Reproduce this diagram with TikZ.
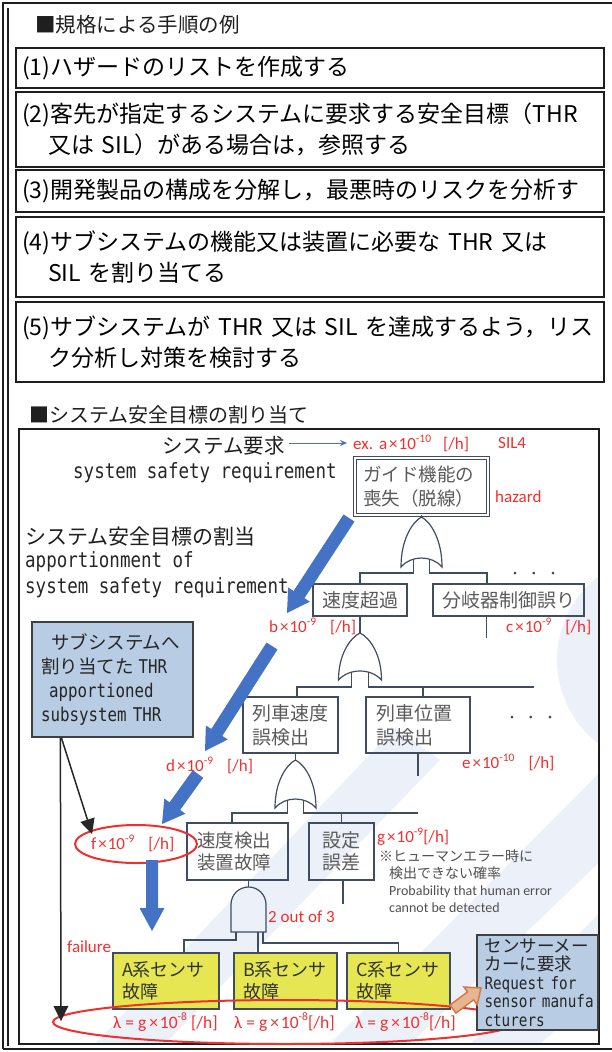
\documentclass[tikz,border=0pt]{standalone}
\usepackage{fontspec}
\usepackage{graphicx}
\setmainfont{Noto Sans CJK JP}
\newfontfamily\jp{Noto Sans CJK JP}
\newfontfamily\calfont{Carlito}
\newfontfamily\monofont{DejaVu Sans Mono}
\usetikzlibrary{calc,shapes.geometric,arrows.meta}

\definecolor{frameblack}{RGB}{30,30,30}
\definecolor{treeline}{RGB}{64,76,96}
\definecolor{treetext}{RGB}{90,90,90}
\definecolor{redtxt}{RGB}{238,48,48}
\definecolor{arrowblue}{RGB}{68,114,196}
\definecolor{boxblue}{RGB}{184,204,228}
\definecolor{sensoryellow}{RGB}{230,230,82}
\definecolor{orangefill}{RGB}{232,180,150}
\definecolor{orangeline}{RGB}{214,122,64}
\definecolor{notegray}{RGB}{80,80,80}
\definecolor{wm}{RGB}{236,241,249}

\newcommand\sups[1]{\raisebox{0.42em}{\fontsize{11.5}{11.5}\selectfont #1}}
\newcommand\mtxt[2]{\mbox{\monofont\fontsize{#1}{#1}\selectfont\scalebox{1}[1.2]{#2}}}
\newcommand\tallmono[1]{\scalebox{1}[1.2]{#1}}

% OR gate: name, cx, top, bottom, half width
\newcommand\ORgate[5]{%
  \draw[gateline] ({#2},{#3}) .. controls ({#2+0.45*#5},{#3+0.1*(#4-#3)}) and ({#2+#5},{#3+0.45*(#4-#3)}) .. ({#2+#5},{#4})
    .. controls ({#2+0.5*#5},{#4-12}) and ({#2-0.5*#5},{#4-12}) .. ({#2-#5},{#4})
    .. controls ({#2-#5},{#3+0.45*(#4-#3)}) and ({#2-0.45*#5},{#3+0.1*(#4-#3)}) .. cycle;
  \coordinate (#1-top) at ({#2},{#3});
  \coordinate (#1-l) at ({#2-0.4*#5},{#4-7.8});
  \coordinate (#1-r) at ({#2+0.4*#5},{#4-7.8});
}
% AND gate: name, cx, top, bottom, half width
\newcommand\ANDgate[5]{%
  \draw[gateline] ({#2-#5},{#4}) -- ({#2-#5},{#3+#5})
    .. controls ({#2-#5},{#3+0.45*#5}) and ({#2-0.55*#5},{#3}) .. ({#2},{#3})
    .. controls ({#2+0.55*#5},{#3}) and ({#2+#5},{#3+0.45*#5}) .. ({#2+#5},{#3+#5})
    -- ({#2+#5},{#4}) -- cycle;
  \coordinate (#1-top) at ({#2},{#3});
  \coordinate (#1-a) at ({#2-12.5},{#4});
  \coordinate (#1-b) at ({#2+9.5},{#4});
  \coordinate (#1-c) at ({#2+14.5},{#4});
}
% block arrow: style, tail, head, shaft hw, head hw, head length
\newcommand\blockarrow[6]{%
  \coordinate (ba-base) at ($(#3)!#6!(#2)$);
  \path[#1] ($(#2)!#4!90:(#3)$) -- ($(ba-base)!#4!90:(#3)$) -- ($(ba-base)!#5!90:(#3)$) -- (#3)
    -- ($(ba-base)!#5!-90:(#3)$) -- ($(ba-base)!#4!-90:(#3)$) -- ($(#2)!#4!-90:(#3)$) -- cycle;
}
% thin line with a large filled triangular head: start, tip
\newcommand\linearrow[2]{%
  \coordinate (la-base) at ($(#2)!15pt!(#1)$);
  \draw[blackline] (#1) -- (la-base);
  \fill[black!85] (#2) -- ($(la-base)!7.5pt!90:(#2)$) -- ($(la-base)!7.5pt!-90:(#2)$) -- cycle;
}

\begin{document}
\begin{tikzpicture}[x=1pt,y=-1pt,
  topbox/.style={draw=frameblack, line width=1.6pt, inner xsep=6pt, inner ysep=0pt, text width=576pt, align=left, minimum width=588pt, font=\jp\fontsize{23}{31}\selectfont},
  treebox/.style={draw=treeline, line width=1.3pt, inner sep=0pt, align=left, text=treetext, font=\jp\fontsize{19}{24}\selectfont},
  yellowbox/.style={treebox, fill=sensoryellow, text=black!80, font=\jp\fontsize{18}{22}\selectfont},
  bluebox/.style={draw=black!75, line width=1.3pt, fill=boxblue, align=left, inner sep=0pt, text=black!85},
  redlabel/.style={anchor=west, inner sep=0pt, text=redtxt, font=\calfont\fontsize{17}{17}\selectfont},
  notelabel/.style={anchor=west, inner sep=0pt, text=notegray},
  monolabel/.style={anchor=west, inner sep=0pt, text=black!85, font=\monofont\fontsize{17.5}{17.5}\selectfont},
  jplabel/.style={anchor=west, inner sep=0pt, text=black!88},
  treeedge/.style={draw=treeline, line width=1.1pt},
  gateline/.style={draw=treeline, line width=1.2pt},
  redring/.style={draw=redtxt, line width=2pt, ellipse, inner sep=0pt},
  blackline/.style={draw=black!85, line width=1.5pt},
]
\useasboundingbox (0,0) rectangle (612,1052);
\fill[white] (0,0) rectangle (612,1052);

% faint watermark
\begin{scope}
  \clip (19,429) rectangle (599,1044);
  \fill[wm] (662,660) circle[radius=105];
  \fill[wm] (95,1044) -- (165,1044) -- (440,760) -- (395,728) -- cycle;
  \fill[wm] (330,1044) -- (410,1044) -- (612,850) -- (612,760) -- cycle;
  \fill[wm] (470,1044) -- (540,1044) -- (612,980) -- (612,900) -- cycle;
\end{scope}

% outer frame
\draw[frameblack, line width=1.2pt] (3,1049) -- (3,3) -- (612,3);
\draw[frameblack, line width=1.2pt] (8,8) -- (8,1046);
\draw[frameblack, line width=1.2pt] (3,1049) -- (612,1049);

% upper part
\node[jplabel, font=\jp\fontsize{20.5}{20.5}\selectfont] (t1) at (35,25) {■規格による手順の例};
\node[topbox, minimum height=40pt] (s1) at (310,68) {(1)ハザードのリストを作成する};
\node[topbox, minimum height=75pt] (s2) at (310,129.5) {(2)客先が指定するシステムに要求する安全目標（THR\\\hspace*{26pt}又は SIL）がある場合は，参照する};
\node[topbox, minimum height=42pt] (s3) at (310,191) {(3)開発製品の構成を分解し，最悪時のリスクを分析す};
\node[topbox, minimum height=80pt] (s4) at (310,257) {(4)サブシステムの機能又は装置に必要な THR 又は\\\hspace*{26pt}SIL を割り当てる};
\node[topbox, minimum height=80pt] (s5) at (310,342) {(5)サブシステムが THR 又は SIL を達成するよう，リス\\\hspace*{26pt}ク分析し対策を検討する};

\node[jplabel, font=\jp\fontsize{20}{20}\selectfont] (t2) at (29,415) {■システム安全目標の割り当て};
\draw[frameblack, line width=1.5pt] (19,429) rectangle (599,1044);

% left texts
\node[jplabel, font=\jp\fontsize{20.5}{20.5}\selectfont] (sysreq) at (162,446) {システム要求};
\node[monolabel] (ssr1) at (73,473) {\tallmono{system safety requirement}};
\node[jplabel, font=\jp\fontsize{21}{21}\selectfont] (alloc) at (25,537) {システム安全目標の割当};
\node[monolabel] (ssr2a) at (25,562) {\tallmono{apportionment of}};
\node[monolabel] (ssr2b) at (25,588) {\tallmono{system safety requirement}};

% tree boxes
\node[treebox, double=white, line width=0.9pt, double distance=1.6pt, minimum width=133pt, minimum height=57pt, text width=117pt, font=\jp\fontsize{18.5}{24}\selectfont] (guide) at (421.5,486.5) {ガイド機能の\\喪失（脱線）};
\node[treebox, minimum width=94pt, minimum height=32pt, align=center] (b1) at (360,600) {速度超過};
\node[treebox, minimum width=151pt, minimum height=32pt, align=center] (b2) at (508.5,600) {分岐器制御誤り};
\node[treebox, minimum width=95pt, minimum height=56pt, text width=77pt] (c1) at (290.5,725) {列車速度\\誤検出};
\node[treebox, minimum width=104pt, minimum height=56pt, text width=84pt] (c2) at (418,725) {列車位置\\誤検出};
\node[treebox, minimum width=101pt, minimum height=57pt, text width=81pt, font=\jp\fontsize{18.5}{22}\selectfont] (d1) at (237.5,851.5) {速度検出\\装置故障};
\node[treebox, minimum width=65pt, minimum height=57pt, align=center, font=\jp\fontsize{19}{22}\selectfont] (d2) at (341.5,851.5) {設定\\誤差};
\node[yellowbox, minimum width=106pt, minimum height=56pt, text width=88pt] (sA) at (166,981) {A系センサ\\故障};
\node[yellowbox, minimum width=103pt, minimum height=56pt, text width=85pt] (sB) at (285.5,981) {B系センサ\\故障};
\node[yellowbox, minimum width=103pt, minimum height=56pt, text width=85pt] (sC) at (398.5,981) {C系センサ\\故障};

\node[jplabel, font=\jp\fontsize{13}{13}\selectfont, text=black!70, anchor=center] (dots1) at (534,575) {・\hspace{6pt}・\hspace{6pt}・};
\node[jplabel, font=\jp\fontsize{13}{13}\selectfont, text=black!70, anchor=center] (dots2) at (531,719) {・\hspace{6pt}・\hspace{6pt}・};

% gates and connectors
\ORgate{g1}{421.5}{517}{567}{20.5}
\coordinate (h1) at (0,573);
\draw[treeedge] (guide.south) -- (g1-top);
\draw[treeedge] (g1-l) -- (g1-l |- h1) -| (b1.north);
\draw[treeedge] (g1-r) -- (g1-r |- h1) -| ([xshift=-21.5pt]b2.north);
\draw[treeedge] ([xshift=-22pt]b2.south) -- ++(0,21);

\ORgate{g2}{360}{633}{680}{21.5}
\coordinate (h2) at (0,687);
\coordinate (h2end) at (534,687);
\draw[treeedge] (b1.south) -- (g2-top);
\draw[treeedge] (g2-l) -- (g2-l |- h2) -| ([xshift=6.5pt]c1.north);
\draw[treeedge] (g2-r) -- (g2-r |- h2) -- (h2end);
\draw[treeedge] ([xshift=5pt]c2.north |- h2) -- ([xshift=5pt]c2.north);
\draw[treeedge] (c2.south) -- ++(0,22);

\ORgate{g3}{295.5}{760}{808}{20.5}
\coordinate (h3) at (0,813);
\coordinate (h3end) at (418,813);
\draw[treeedge] ([xshift=5pt]c1.south) -- (g3-top);
\draw[treeedge] (g3-l) -- (g3-l |- h3) -| ([xshift=-5.5pt]d1.north);
\draw[treeedge] (g3-r) -- (g3-r |- h3) -- (h3end);
\draw[treeedge] (d2.north |- h3) -- (d2.north);
\draw[treeedge] ([xshift=1.5pt]d2.south) -- ++(0,23);

\ANDgate{g4}{248.5}{887}{932}{17.5}
\draw[treeedge] ([xshift=11pt]d1.south) -- (g4-top);
\draw[treeedge] (g4-a) -- ++(0,8) -| ([xshift=18pt]sA.north);
\draw[treeedge] (g4-b) -- ([xshift=-27.5pt]sB.north);
\draw[treeedge] (g4-c) -- ++(0,11) -| (sC.north);

% sub system box
\node[bluebox, minimum width=161pt, minimum height=115pt, text width=143pt, font=\jp\fontsize{18.5}{24}\selectfont] (sub) at (112.5,679.5)
  {\hspace*{10pt}サブシステムへ\\割り当てた\hspace{5pt}\mtxt{15.8}{THR}\\\hspace*{8pt}\mtxt{15.8}{apportioned}\\\mtxt{15.8}{subsystem THR}};

% red rings
\node[redring, minimum width=122pt, minimum height=38pt] (fring) at (136,844) {};
\node[redring, minimum width=464pt, minimum height=44pt] (bigring) at (285,1022) {};

% request box
\node[bluebox, minimum width=121pt, minimum height=95pt, text width=106pt, font=\jp\fontsize{17.5}{18.5}\selectfont] (req) at (537.5,982.5)
  {センサーメー\\カーに要求\\\mtxt{14.3}{Request for}\\\mtxt{14.3}{sensor manufa}\\\mtxt{14.3}{cturers}};

% blue block arrows
\coordinate (a1t) at (349,518); \coordinate (a1h) at (287,613);
\coordinate (a2t) at (272,646); \coordinate (a2h) at (205,751);
\coordinate (a3t) at (198,774); \coordinate (a3h) at (162,824);
\coordinate (a4t) at (152,860); \coordinate (a4h) at (152,931);
\blockarrow{fill=arrowblue}{a1t}{a1h}{6.5pt}{13pt}{22pt}
\blockarrow{fill=arrowblue}{a2t}{a2h}{6.5pt}{13pt}{22pt}
\blockarrow{fill=arrowblue}{a3t}{a3h}{6.5pt}{13pt}{22pt}
\blockarrow{fill=arrowblue}{a4t}{a4h}{6pt}{12.5pt}{23pt}

% orange arrow
\coordinate (o1t) at (453,1009); \coordinate (o1h) at (481,988);
\blockarrow{fill=orangefill, draw=orangeline, line width=1.5pt, line join=miter}{o1t}{o1h}{5pt}{11pt}{13pt}

% black arrows from the subsystem box
\coordinate (subfoot1) at ([xshift=29pt]sub.south west);
\coordinate (subfoot2) at ([xshift=30pt]sub.south west);
\coordinate (failtip) at (61,1021);
\coordinate (ftip) at (92,834);
\linearrow{subfoot1}{failtip}
\linearrow{subfoot2}{ftip}

% red labels
\node[redlabel] (ex) at (353,443) {ex.\hspace{6pt}a\kern2pt×\kern1pt10\sups{-10}\hspace{12pt}[/h]};
\node[redlabel] (sil) at (498,443) {SIL4};
\draw[draw=arrowblue, line width=1pt, -{Stealth[length=7pt,width=6pt]}] ([xshift=4pt]sysreq.east |- ex.west) -- ([xshift=-6pt]ex.west);
\node[redlabel] (hz) at (495,497) {hazard};
\node[redlabel] (lb) at (269,626) {b\kern2pt×\kern1pt10\sups{-9}\hspace{14pt}[/h]};
\node[redlabel] (lc) at (506,626) {c\kern2pt×\kern1pt10\sups{-9}\hspace{14pt}[/h]};
\node[redlabel] (ld) at (166,765) {d\kern2pt×\kern1pt10\sups{-9}\hspace{14pt}[/h]};
\node[redlabel] (le) at (462,762) {e\kern2pt×\kern1pt10\sups{-10}\hspace{14pt}[/h]};
\node[redlabel] (lf) at (91,843) {f\kern2pt×\kern1pt10\sups{-9}\hspace{14pt}[/h]};
\node[redlabel] (lg) at (377,837) {g\kern2pt×\kern1pt10\sups{-9}[/h]};
\node[redlabel] (l23) at (268,917) {2 out of 3};
\node[redlabel] (lfail) at (67,947) {failure};
\node[redlabel, font=\calfont\fontsize{17.5}{17.5}\selectfont] (lamA) at (113,1022) {λ\kern4pt=\kern4pt g\kern3pt×\kern2pt10\sups{-8}\kern4pt[/h]};
\node[redlabel, font=\calfont\fontsize{17.5}{17.5}\selectfont] (lamB) at (234,1022) {λ\kern4pt=\kern4pt g\kern3pt×\kern2pt10\sups{-8}[/h]};
\node[redlabel, font=\calfont\fontsize{17.5}{17.5}\selectfont] (lamC) at (355,1022) {λ\kern4pt=\kern4pt g\kern3pt×\kern2pt10\sups{-8}[/h]};

% note
\node[notelabel, font=\jp\fontsize{14}{14}\selectfont] (n1) at (379,856) {※ヒューマンエラー時に};
\node[notelabel, font=\jp\fontsize{14}{14}\selectfont] (n2) at (389,873) {検出できない確率};
\node[notelabel, font=\calfont\fontsize{14}{14}\selectfont] (n3) at (389,892) {Probability that human error};
\node[notelabel, font=\calfont\fontsize{14}{14}\selectfont] (n4) at (389,908) {cannot be detected};
\end{tikzpicture}
\end{document}
